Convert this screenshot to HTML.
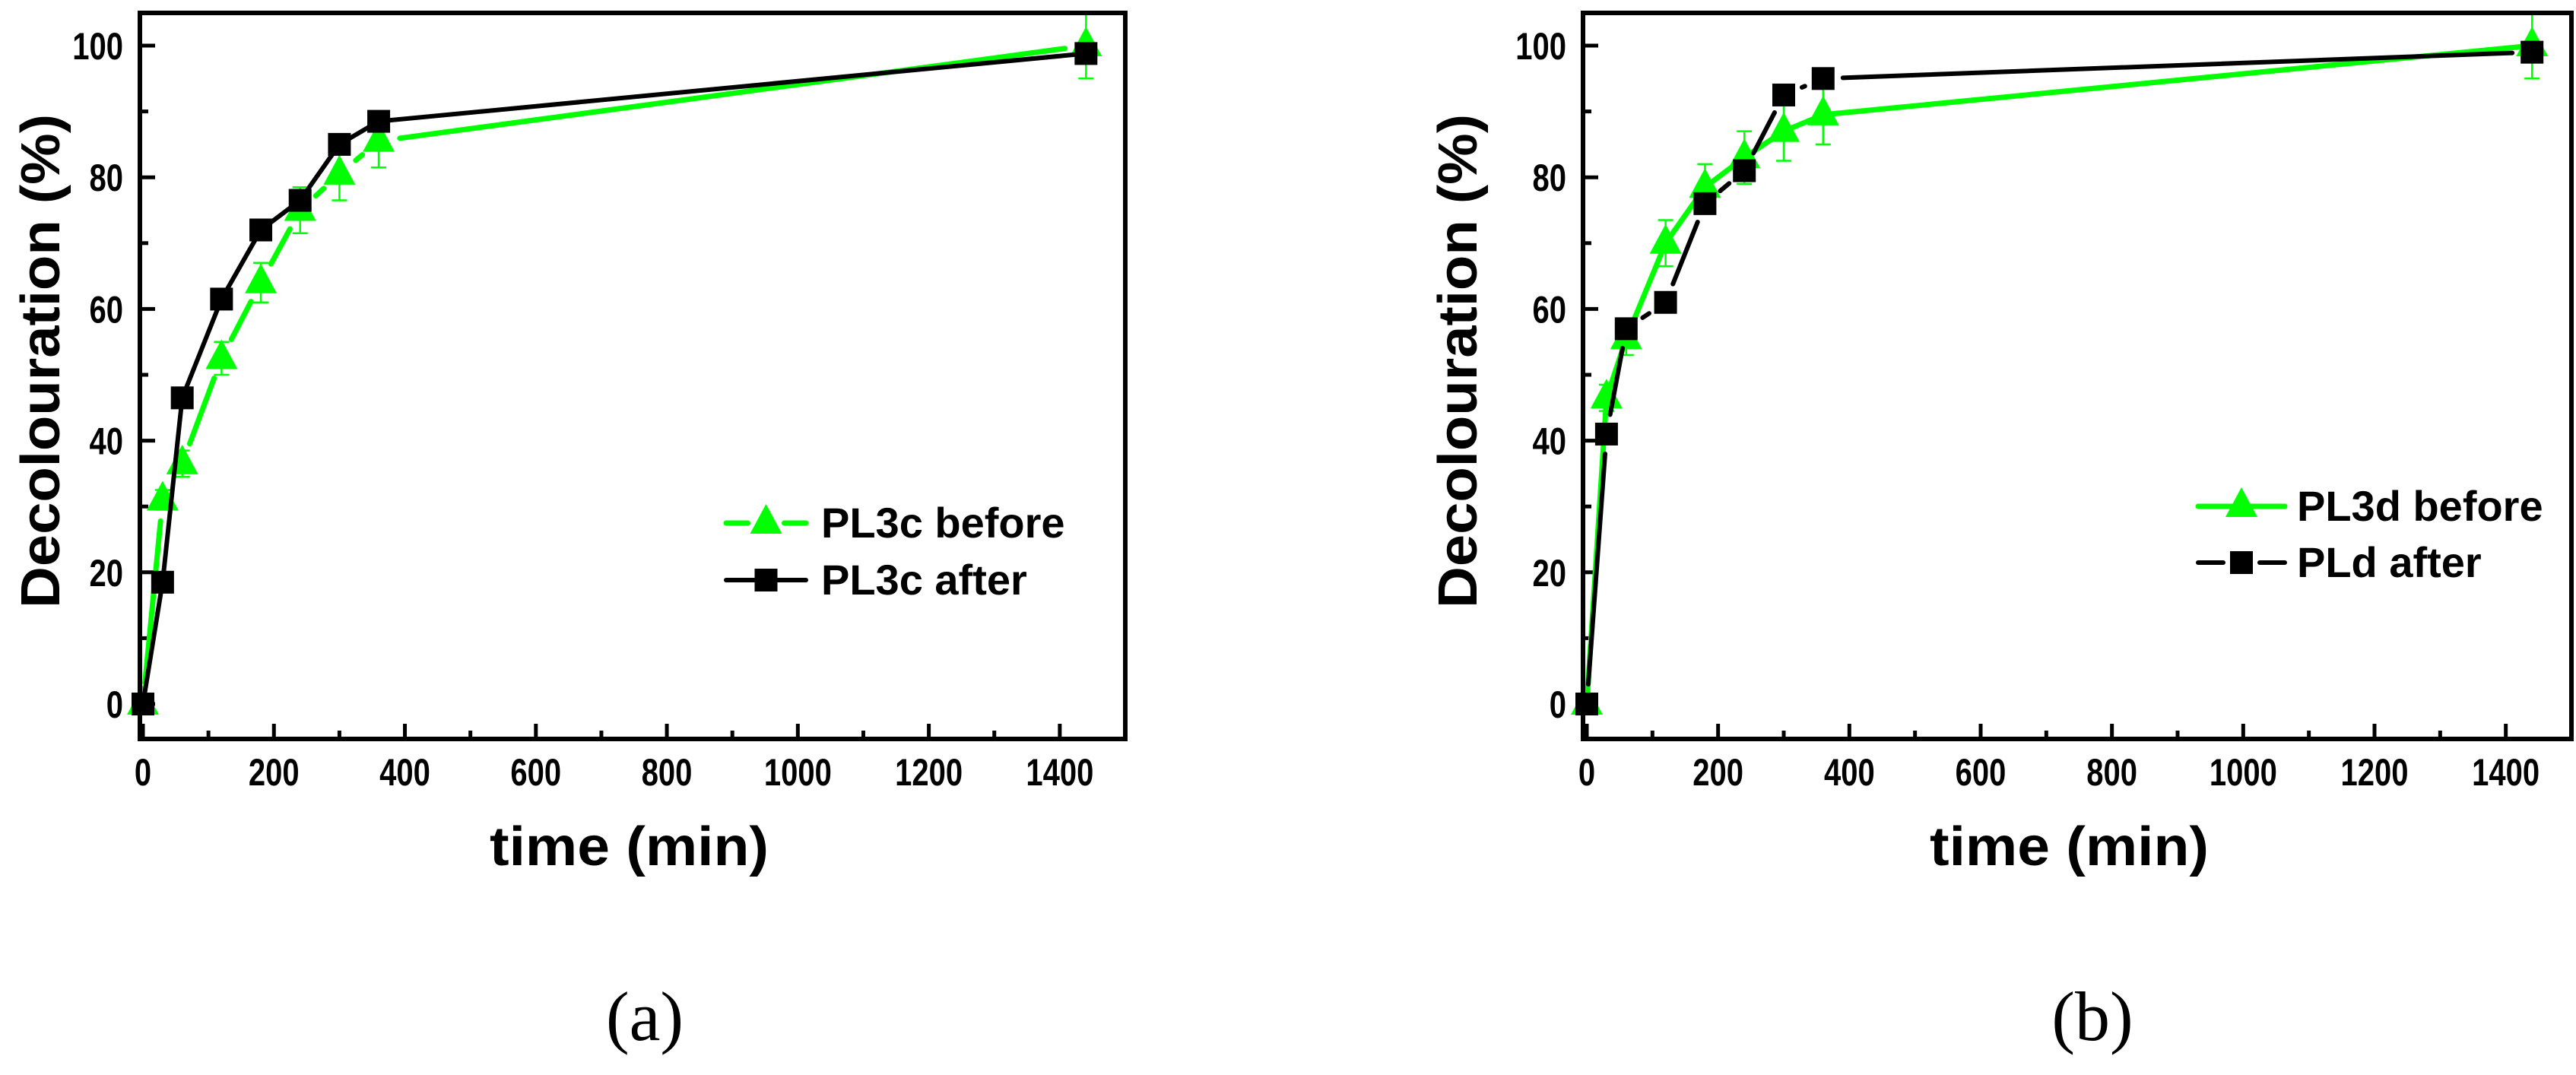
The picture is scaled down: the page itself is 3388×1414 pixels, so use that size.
<!DOCTYPE html>
<html><head><meta charset="utf-8"><style>
html,body{margin:0;padding:0;background:#fff;}
svg{display:block;}
text{font-family:"Liberation Sans",sans-serif;font-weight:bold;fill:#000;}
</style></head><body>
<svg id="fig" width="3388" height="1414" viewBox="0 0 3388 1414" xmlns="http://www.w3.org/2000/svg"></svg>
<script>
const times = [0, 30, 60, 120, 180, 240, 300, 360, 1440];
const aBefore = [0, 31, 36.5, 52.5, 64, 75, 80.5, 85.5, 100];
const aBeforeErr = [0, 1.5, 2, 2.5, 3, 3.5, 4, 4, 5];
const aAfter = [0, 18.5, 46.5, 61.5, 72, 76.5, 85, 88.5, 98.8];
const bBefore = [0, 46.5, 55.5, 70, 78.5, 83, 87, 89.5, 100];
const bBeforeErr = [0, 2, 2.5, 3.5, 3.5, 4, 4.5, 4.5, 5];
const bAfter = [0, 41, 57, 61, 76, 81, 92.5, 95, 99];
const xTicks = [0, 200, 400, 600, 800, 1000, 1200, 1400];
const yTicks = [0, 20, 40, 60, 80, 100];
const legendA = ["PL3c before", "PL3c after"];
const legendB = ["PL3d before", "PLd after"];

const NS = "http://www.w3.org/2000/svg";
const svg = document.getElementById("fig");
function el(tag, attrs, parent, txt) {
  const e = document.createElementNS(NS, tag);
  for (const k in attrs) e.setAttribute(k, attrs[k]);
  if (txt !== undefined) e.textContent = txt;
  (parent || svg).appendChild(e);
  return e;
}
const GREEN = "#00ff00";

function panel(cfg) {
  const g = el("g", {});
  
  
  const L = cfg.left, R = cfg.right, T = 17, B = 972;
  const x0 = cfg.x0, kx = (R - x0) / 1500;
  const X = v => x0 + v * kx;
  const Y = v => 926 - v * 8.66;
  for (let v = 0; v <= 1400; v += 100) {
    const major = v % 200 === 0;
    const t = el("line", {x1: X(v), x2: X(v), y1: B, y2: B - (major ? 20 : 11), stroke: "#000", "stroke-width": 5}, g);
    
    
  }
  for (let v = 0; v <= 100; v += 10) {
    const major = v % 20 === 0;
    const t = el("line", {x1: L, x2: L + (major ? 20 : 11), y1: Y(v), y2: Y(v), stroke: "#000", "stroke-width": 5}, g);
    
    
  }
  xTicks.forEach(v => {
    const t = el("text", {x: X(v), y: 1033, "font-size": 50, "text-anchor": "middle", transform: `translate(${X(v)},0) scale(0.8,1) translate(${-X(v)},0)`}, g, String(v));
    
    
  });
  yTicks.forEach(v => {
    const xr = L - 22;
    const t = el("text", {x: xr, y: Y(v) + 18, "font-size": 50, "text-anchor": "end", transform: `translate(${xr},0) scale(0.8,1) translate(${-xr},0)`}, g, String(v));
    
    
  });
  function series(vals, color, width, gapR, gapped, name) {
    const s = el("g", {}, g);
    
    
    for (let i = 0; i < vals.length - 1; i++) {
      let ax = X(times[i]), ay = Y(vals[i]), bx = X(times[i + 1]), by = Y(vals[i + 1]);
      if (gapped) {
        const dx = bx - ax, dy = by - ay, d = Math.hypot(dx, dy);
        if (d < 2 * gapR + 4) continue;
        const ux = dx / d, uy = dy / d;
        ax += ux * gapR; ay += uy * gapR; bx -= ux * gapR; by -= uy * gapR;
      }
      el("line", {x1: ax, y1: ay, x2: bx, y2: by, stroke: color, "stroke-width": width, "stroke-linecap": "round"}, s);
    }
    return s;
  }
  function errs(vals, errv) {
    const s = el("g", {}, g);
    
    
    vals.forEach((v, i) => {
      if (!errv[i]) return;
      const x = X(times[i]);
      el("line", {x1: x, x2: x, y1: Y(v + errv[i]), y2: Y(v - errv[i]), stroke: GREEN, "stroke-width": 2.5}, s);
      [v + errv[i], v - errv[i]].forEach(e => el("line", {x1: x - 10, x2: x + 10, y1: Y(e), y2: Y(e), stroke: GREEN, "stroke-width": 2.5}, s));
    });
  }
  function tri(x, y, parent) {
    return el("polygon", {points: `${x},${y - 25} ${x - 21},${y + 14} ${x + 21},${y + 14}`, fill: GREEN}, parent);
  }
  function sq(x, y, parent) {
    return el("rect", {x: x - 15, y: y - 15, width: 30, height: 30, fill: "#000"}, parent);
  }
  errs(cfg.before, cfg.beforeErr);
  const sb = series(cfg.before, GREEN, 7, 28, cfg.greenGap, 'series-before');
  const sa = series(cfg.after, "#000", 6, 26, cfg.blackGap, 'series-after');
  cfg.before.forEach((v, i) => { const m = tri(X(times[i]), Y(v), sb);   });
  cfg.after.forEach((v, i) => { const m = sq(X(times[i]), Y(v), sa);   });
  const f = el("rect", {x: L, y: T, width: R - L, height: B - T, fill: "none", stroke: "#000", "stroke-width": 6}, g);
  
  
  const lg = el("g", {}, g);
  
  
  const [lx1, lx2, tx] = cfg.legX;
  const ly = cfg.legY;
  const mid = (lx1 + lx2) / 2;
  function legLine(y, color, w, gap) {
    if (gap) {
      el("line", {x1: lx1, x2: mid - 24, y1: y, y2: y, stroke: color, "stroke-width": w, "stroke-linecap": "round"}, lg);
      el("line", {x1: mid + 24, x2: lx2, y1: y, y2: y, stroke: color, "stroke-width": w, "stroke-linecap": "round"}, lg);
    } else {
      el("line", {x1: lx1, x2: lx2, y1: y, y2: y, stroke: color, "stroke-width": w, "stroke-linecap": "round"}, lg);
    }
  }
  legLine(ly[0], GREEN, 7, cfg.greenGap);
  tri(mid, ly[0], lg);
  legLine(ly[1], "#000", 6, cfg.blackGap);
  sq(mid, ly[1], lg);
  cfg.legend.forEach((t, i) => {
    const e = el("text", {x: tx, y: ly[i] + 19, "font-size": 56}, lg, t);
    
    
  });
  const xt = el("text", {x: cfg.xTitleX, y: 1138, "font-size": 72, textLength: 367, lengthAdjust: "spacingAndGlyphs"}, g, "time (min)");
  
  
  const yc = cfg.yTitleX;
  const yt = el("text", {x: yc, y: 475, "font-size": 72, "text-anchor": "middle", textLength: 650, lengthAdjust: "spacingAndGlyphs", transform: `rotate(-90 ${yc} 475) translate(0,25)`}, g, "Decolouration (%)");
  
  
  const cap = el("text", {x: cfg.capX, y: 1368, "font-size": 92, "text-anchor": "middle", style: "font-family:'Liberation Serif',serif;font-weight:normal"}, g, cfg.cap);
  
  
}

panel({name: 'panel-a', left: 184, right: 1480, x0: 188, before: aBefore, beforeErr: aBeforeErr, after: aAfter,
  greenGap: true, blackGap: false, legend: legendA, legX: [955, 1060, 1080], legY: [688, 763],
  xTitleX: 644, yTitleX: 53, capX: 848, cap: "(a)"});
panel({name: 'panel-b', left: 2082, right: 3382, x0: 2087, before: bBefore, beforeErr: bBeforeErr, after: bAfter,
  greenGap: false, blackGap: true, legend: legendB, legX: [2891, 3005, 3021], legY: [666, 740],
  xTitleX: 2538, yTitleX: 1917, capX: 2752, cap: "(b)"});
</script>
</body></html>
